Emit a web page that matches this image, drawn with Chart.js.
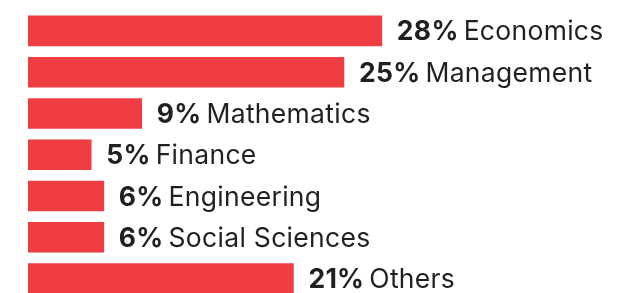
<!DOCTYPE html>
<html>
<head>
<meta charset="utf-8">
<script src="https://cdn.jsdelivr.net/npm/chart.js@4.4.1/dist/chart.umd.min.js"></script>
<style>
  html, body { margin: 0; padding: 0; background: #fff; }
  #wrap { width: 622px; height: 293px; }
</style>
</head>
<body>
<div id="wrap"><canvas id="subjectChart"></canvas></div>
<script>
const subjects = ['Economics', 'Management', 'Mathematics', 'Finance', 'Engineering', 'Social Sciences', 'Others'];
const shares = [28, 25, 9, 5, 6, 6, 21];

const barColor = '#ef3d42';
const textColor = '#231f20';
const fontFamily = 'Inter, "Noto Sans", sans-serif';

// label after each bar: bold percentage, then the subject name
const barLabels = {
    id: 'barLabels',
    afterDatasetsDraw(chart) {
        const c = chart.ctx;
        const meta = chart.getDatasetMeta(0);
        c.save();
        c.fillStyle = textColor;
        c.textBaseline = 'alphabetic';
        c.letterSpacing = '0.3px';
        meta.data.forEach((bar, i) => {
            let x = bar.x + 15;
            const y = bar.y + 9.5;
            const pct = shares[i] + '%';
            c.font = '700 26.5px ' + fontFamily;
            c.fillText(pct, x, y);
            x += c.measureText(pct).width + 5;
            c.font = '400 26.5px ' + fontFamily;
            c.fillText(subjects[i], x, y);
        });
        c.restore();
    }
};

const ctx = document.getElementById('subjectChart').getContext('2d');
const subjectChart = new Chart(ctx, {
    type: 'bar',
    data: {
        datasets: [{
            data: shares.map((v, i) => ({ x: v, y: i })),
            backgroundColor: barColor,
            barThickness: 30
        }]
    },
    options: {
        indexAxis: 'y',
        responsive: true,
        maintainAspectRatio: false,
        animation: false,
        layout: { padding: { left: 28, right: 0, top: 0, bottom: 0 } },
        plugins: { legend: { display: false }, tooltip: { enabled: false } },
        scales: {
            x: { type: 'linear', min: 0, max: 47, display: false, offset: false },
            y: { type: 'linear', min: -0.75, max: 6.35, reverse: true, display: false, offset: false }
        }
    },
    plugins: [barLabels]
});
</script>
</body>
</html>
